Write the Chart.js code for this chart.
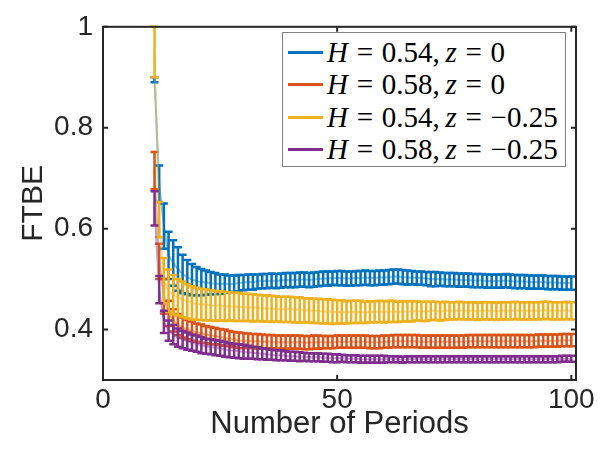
<!DOCTYPE html>
<html>
<head>
<meta charset="utf-8">
<script src="https://cdn.jsdelivr.net/npm/chart.js@4/dist/chart.umd.min.js"></script>
<style>
  body { margin: 0; background: #fff; }
  #wrap { position: relative; width: 605px; height: 449px; }
  #legend {
    position: absolute; left: 282px; top: 32px; width: 282px; height: 133px;
    border: 1.5px solid #808080; background: #fff;
    font-family: "Liberation Serif", "DejaVu Serif", serif; font-size: 29px; color: #000;
  }
  .row { position: absolute; left: 0; height: 30px; line-height: 30px; white-space: nowrap; }
  .swatch { position: absolute; left: 5px; top: 14px; width: 35px; height: 2.5px; }
  .txt { position: absolute; left: 44px; top: 0; }
  .txt i { font-style: italic; }
  .eq { margin: 0 0.3em; }
</style>
</head>
<body>
<div id="wrap">
  <canvas id="c" width="605" height="449"></canvas>
  <div id="legend"></div>
</div>
<script>
// periods on the x axis
const periods = [
  11,12,13,14,15,16,17,18,19,20,
  21,22,23,24,25,26,27,28,29,30,
  31,32,33,34,35,36,37,38,39,40,
  41,42,43,44,45,46,47,48,49,50,
  51,52,53,54,55,56,57,58,59,60,
  61,62,63,64,65,66,67,68,69,70,
  71,72,73,74,75,76,77,78,79,80,
  81,82,83,84,85,86,87,88,89,90,
  91,92,93,94,95,96,97,98,99,100
];

// H = 0.54, z = 0
const blueMean = [
  0.895,0.689,0.605,0.547,0.532,0.520,0.510,0.504,0.499,0.496,
  0.494,0.493,0.492,0.491,0.490,0.491,0.490,0.491,0.492,0.493,
  0.494,0.494,0.495,0.496,0.496,0.497,0.496,0.497,0.498,0.498,
  0.498,0.499,0.499,0.498,0.499,0.500,0.501,0.501,0.502,0.502,
  0.502,0.501,0.501,0.502,0.502,0.503,0.502,0.502,0.503,0.503,
  0.504,0.505,0.505,0.504,0.503,0.503,0.502,0.502,0.501,0.500,
  0.500,0.500,0.499,0.499,0.499,0.498,0.498,0.498,0.497,0.497,
  0.497,0.496,0.496,0.496,0.496,0.497,0.496,0.495,0.495,0.495,
  0.494,0.494,0.494,0.494,0.493,0.493,0.493,0.492,0.492,0.492
];
const blueErr = [
  0.005,0.036,0.045,0.047,0.045,0.043,0.038,0.034,0.031,0.028,
  0.026,0.024,0.022,0.021,0.019,0.018,0.017,0.016,0.016,0.015,
  0.015,0.015,0.014,0.014,0.014,0.014,0.014,0.014,0.014,0.014,
  0.014,0.014,0.014,0.014,0.014,0.014,0.014,0.014,0.013,0.014,
  0.014,0.014,0.014,0.014,0.014,0.014,0.014,0.014,0.014,0.014,
  0.014,0.014,0.014,0.014,0.014,0.013,0.013,0.013,0.013,0.014,
  0.014,0.013,0.013,0.013,0.013,0.013,0.013,0.013,0.013,0.013,
  0.013,0.013,0.013,0.013,0.013,0.013,0.013,0.013,0.013,0.013,
  0.013,0.013,0.013,0.013,0.013,0.013,0.013,0.013,0.013,0.013
];

// H = 0.58, z = 0
const redMean = [
  0.715,0.535,0.466,0.432,0.418,0.410,0.404,0.400,0.397,0.394,
  0.392,0.390,0.388,0.387,0.385,0.384,0.382,0.380,0.379,0.378,
  0.378,0.377,0.377,0.376,0.376,0.376,0.375,0.375,0.375,0.375,
  0.375,0.375,0.374,0.374,0.375,0.375,0.375,0.375,0.375,0.376,
  0.376,0.376,0.376,0.376,0.376,0.376,0.375,0.375,0.375,0.376,
  0.376,0.377,0.377,0.377,0.377,0.377,0.377,0.376,0.376,0.376,
  0.376,0.376,0.376,0.376,0.376,0.376,0.376,0.377,0.377,0.377,
  0.377,0.377,0.377,0.377,0.377,0.377,0.377,0.377,0.377,0.377,
  0.377,0.377,0.378,0.378,0.378,0.378,0.378,0.379,0.379,0.379
];
const redErr = [
  0.037,0.035,0.034,0.025,0.022,0.021,0.020,0.019,0.019,0.018,
  0.018,0.017,0.017,0.016,0.016,0.016,0.015,0.015,0.015,0.015,
  0.014,0.014,0.014,0.014,0.013,0.013,0.013,0.013,0.013,0.013,
  0.013,0.013,0.013,0.013,0.013,0.013,0.012,0.012,0.012,0.012,
  0.012,0.012,0.012,0.012,0.012,0.012,0.012,0.012,0.012,0.012,
  0.012,0.012,0.012,0.012,0.012,0.012,0.012,0.012,0.012,0.012,
  0.012,0.012,0.012,0.012,0.012,0.012,0.012,0.012,0.012,0.012,
  0.012,0.012,0.012,0.012,0.012,0.012,0.012,0.012,0.012,0.012,
  0.012,0.012,0.012,0.012,0.012,0.012,0.012,0.012,0.012,0.012
];

// H = 0.54, z = -0.25
const yellowMean = [
  0.950,0.618,0.497,0.477,0.469,0.464,0.460,0.456,0.453,0.451,
  0.450,0.449,0.448,0.447,0.447,0.446,0.446,0.445,0.445,0.444,
  0.444,0.443,0.443,0.442,0.442,0.441,0.441,0.440,0.440,0.440,
  0.439,0.439,0.438,0.438,0.437,0.437,0.436,0.436,0.435,0.435,
  0.435,0.434,0.435,0.435,0.435,0.434,0.435,0.435,0.436,0.435,
  0.436,0.436,0.435,0.436,0.436,0.436,0.437,0.436,0.436,0.437,
  0.437,0.436,0.437,0.437,0.437,0.438,0.437,0.437,0.437,0.436,
  0.437,0.437,0.437,0.436,0.437,0.437,0.437,0.438,0.437,0.437,
  0.437,0.437,0.437,0.438,0.438,0.437,0.437,0.437,0.438,0.437
];
const yellowErr = [
  0.050,0.035,0.045,0.042,0.039,0.036,0.035,0.034,0.033,0.032,
  0.031,0.031,0.030,0.030,0.029,0.029,0.028,0.028,0.028,0.027,
  0.027,0.027,0.026,0.026,0.026,0.026,0.025,0.025,0.025,0.025,
  0.025,0.025,0.024,0.024,0.024,0.024,0.024,0.024,0.024,0.023,
  0.023,0.022,0.022,0.022,0.022,0.021,0.021,0.021,0.021,0.021,
  0.021,0.021,0.020,0.020,0.020,0.020,0.019,0.019,0.019,0.018,
  0.018,0.018,0.018,0.017,0.017,0.017,0.017,0.017,0.017,0.017,
  0.017,0.017,0.017,0.017,0.017,0.017,0.017,0.017,0.017,0.017,
  0.017,0.017,0.017,0.017,0.017,0.017,0.017,0.017,0.017,0.017
];

// H = 0.58, z = -0.25
const purpleMean = [
  0.640,0.479,0.415,0.398,0.390,0.384,0.380,0.377,0.374,0.372,
  0.369,0.367,0.366,0.364,0.363,0.361,0.359,0.358,0.357,0.356,
  0.355,0.354,0.353,0.352,0.351,0.350,0.349,0.349,0.348,0.347,
  0.347,0.346,0.346,0.345,0.345,0.345,0.344,0.344,0.343,0.343,
  0.343,0.342,0.342,0.342,0.341,0.341,0.341,0.341,0.341,0.341,
  0.341,0.341,0.341,0.340,0.341,0.341,0.341,0.341,0.341,0.341,
  0.341,0.341,0.341,0.341,0.341,0.341,0.341,0.341,0.341,0.341,
  0.341,0.341,0.341,0.341,0.341,0.341,0.341,0.341,0.341,0.341,
  0.341,0.341,0.341,0.341,0.341,0.341,0.341,0.342,0.342,0.342
];
const purpleErr = [
  0.034,0.027,0.022,0.020,0.019,0.018,0.017,0.017,0.016,0.016,
  0.016,0.015,0.015,0.015,0.015,0.015,0.014,0.014,0.014,0.014,
  0.013,0.012,0.012,0.011,0.011,0.010,0.010,0.010,0.009,0.009,
  0.009,0.009,0.008,0.008,0.008,0.008,0.008,0.008,0.008,0.008,
  0.007,0.007,0.007,0.007,0.007,0.007,0.007,0.007,0.007,0.007,
  0.006,0.006,0.006,0.006,0.006,0.006,0.006,0.006,0.006,0.006,
  0.006,0.006,0.006,0.006,0.006,0.006,0.006,0.006,0.006,0.006,
  0.006,0.006,0.006,0.006,0.006,0.006,0.006,0.006,0.006,0.006,
  0.006,0.006,0.006,0.006,0.006,0.006,0.006,0.006,0.006,0.006
];

const xTicks = [0, 50, 100];
const yTicks = [0.4, 0.6, 0.8, 1];

const series = [
  { H: '0.54', z: '0',     color: '#0072BD', mean: blueMean,   err: blueErr },
  { H: '0.58', z: '0',     color: '#D95319', mean: redMean,    err: redErr },
  { H: '0.54', z: '\u22120.25', color: '#EDB120', mean: yellowMean, err: yellowErr },
  { H: '0.58', z: '\u22120.25', color: '#7E2F8E', mean: purpleMean, err: purpleErr }
];

const axisColor = '#262626';
const sans = 'Liberation Sans, Arial, sans-serif';

function fade(hex, a) {
  const n = parseInt(hex.slice(1), 16);
  return 'rgba(' + (n >> 16) + ',' + ((n >> 8) & 255) + ',' + (n & 255) + ',' + a + ')';
}

// vertical error bars with caps, drawn right after each series' line
const errorBars = {
  id: 'errorBars',
  afterDatasetDraw(chart, args) {
    const ds = chart.data.datasets[args.index];
    const x = chart.scales.x, y = chart.scales.y;
    const ctx = chart.ctx;
    const cap = 4;
    ctx.save();
    ctx.strokeStyle = ds.barColor;
    ctx.lineWidth = 2.5;
    ds.data.forEach((pt, i) => {
      const px = x.getPixelForValue(pt.x);
      const top = y.getPixelForValue(pt.y + ds.err[i]);
      const bot = y.getPixelForValue(pt.y - ds.err[i]);
      ctx.beginPath();
      ctx.moveTo(px, top); ctx.lineTo(px, bot);
      ctx.moveTo(px - cap, top); ctx.lineTo(px + cap, top);
      ctx.moveTo(px - cap, bot); ctx.lineTo(px + cap, bot);
      ctx.stroke();
    });
    ctx.restore();
  }
};

// MATLAB-style box with inward ticks
const axesBox = {
  id: 'axesBox',
  afterDatasetsDraw(chart) {
    const { ctx, chartArea: a } = chart;
    const x = chart.scales.x, y = chart.scales.y;
    const len = 5;
    ctx.save();
    ctx.strokeStyle = axisColor;
    ctx.lineWidth = 2;
    ctx.strokeRect(a.left, a.top, a.right - a.left, a.bottom - a.top);
    ctx.beginPath();
    xTicks.forEach(v => {
      const px = x.getPixelForValue(v);
      ctx.moveTo(px, a.bottom); ctx.lineTo(px, a.bottom - len);
      ctx.moveTo(px, a.top); ctx.lineTo(px, a.top + len);
    });
    yTicks.forEach(v => {
      const py = y.getPixelForValue(v);
      ctx.moveTo(a.left, py); ctx.lineTo(a.left + len, py);
      ctx.moveTo(a.right, py); ctx.lineTo(a.right - len, py);
    });
    ctx.stroke();
    ctx.restore();
  }
};

const datasets = series.map((s, k) => ({
  label: 'H = ' + s.H + ', z = ' + s.z,
  data: periods.map((p, i) => ({ x: p, y: s.mean[i] })),
  err: s.err,
  barColor: s.color,
  borderColor: fade(s.color, 0.45),
  borderWidth: 2,
  pointRadius: 0,
  fill: false,
  tension: 0,
  order: series.length - 1 - k
}));

new Chart(document.getElementById('c'), {
  type: 'line',
  data: { datasets: datasets },
  options: {
    responsive: false,
    animation: false,
    layout: { padding: { top: 21, right: 29, left: 0, bottom: 0 } },
    plugins: { legend: { display: false }, tooltip: { enabled: false } },
    scales: {
      x: {
        type: 'linear', min: 0, max: 101,
        afterBuildTicks: s => { s.ticks = xTicks.map(v => ({ value: v })); },
        afterFit: s => { s.height = 69; },
        grid: { display: false, drawTicks: false },
        border: { display: false },
        ticks: {
          color: axisColor, padding: 3,
          font: { family: sans, size: 28 },
          callback: v => String(v)
        },
        title: {
          display: true, text: 'Number of Periods', color: axisColor,
          font: { family: sans, size: 31 },
          padding: { top: 0, bottom: 6 }
        }
      },
      y: {
        type: 'linear', min: 0.3, max: 1,
        afterBuildTicks: s => { s.ticks = yTicks.map(v => ({ value: v })); },
        afterFit: s => { s.width = 103; },
        grid: { display: false, drawTicks: false },
        border: { display: false },
        ticks: {
          color: axisColor, padding: 10,
          font: { family: sans, size: 28 },
          callback: v => String(v)
        },
        title: {
          display: true, text: 'FTBE', color: axisColor,
          font: { family: sans, size: 30 },
          padding: { top: 16, bottom: 0 }
        }
      }
    }
  },
  plugins: [errorBars, axesBox]
});

// legend with italic H and z, like the LaTeX legend of the figure
const legend = document.getElementById('legend');
const rowTops = [4, 36, 69, 101];
series.forEach((s, k) => {
  const row = document.createElement('div');
  row.className = 'row';
  row.style.top = rowTops[k] + 'px';
  row.innerHTML =
    '<div class="swatch" style="background:' + s.color + '"></div>' +
    '<span class="txt"><i>H</i><span class="eq">=</span>' + s.H +
    ',&thinsp;<i>z</i><span class="eq">=</span>' + s.z + '</span>';
  legend.appendChild(row);
});
</script>
</body>
</html>
